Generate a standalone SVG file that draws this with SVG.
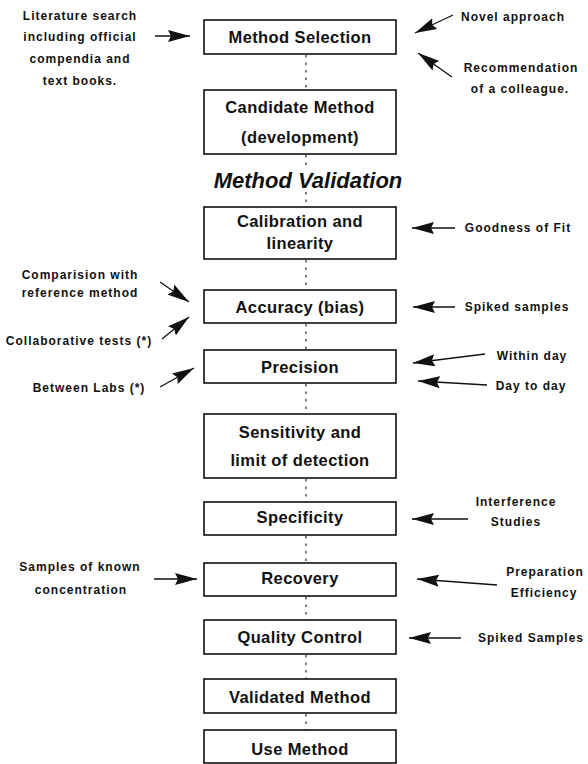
<svg xmlns="http://www.w3.org/2000/svg" width="588" height="764" viewBox="0 0 588 764">
<style>
.bg{fill:#fff}
.box{fill:#fff;stroke:#000;stroke-width:1.5}
.bt{font-family:"Liberation Sans",Arial,sans-serif;font-weight:bold;font-size:16.5px;letter-spacing:0.4px;text-anchor:middle;fill:#111}
.lb{font-family:"Liberation Sans",Arial,sans-serif;font-weight:bold;font-size:12px;letter-spacing:1px;text-anchor:middle;fill:#111}
.title{font-family:"Liberation Sans",Arial,sans-serif;font-weight:bold;font-style:italic;font-size:22px;text-anchor:middle;fill:#111}
.dot{stroke:#555;stroke-width:1.5;stroke-dasharray:2.5 5;fill:none}
.arr{stroke:#111;stroke-width:1.3;fill:none;marker-end:url(#ah)}
</style>
<defs>
<marker id="ah" markerUnits="userSpaceOnUse" markerWidth="22" markerHeight="12" refX="22" refY="6" orient="auto">
<path d="M0,0 L22,6 L0,12 L3,6 z" fill="#111"/>
</marker>
</defs>
<rect class="bg" x="0" y="0" width="588" height="764"/>
<g id="connectors">
<line class="dot" x1="306" y1="55" x2="306" y2="90"/>
<line class="dot" x1="306" y1="155" x2="306" y2="168"/>
<line class="dot" x1="306" y1="192" x2="306" y2="207"/>
<line class="dot" x1="306" y1="260" x2="306" y2="290"/>
<line class="dot" x1="306" y1="324" x2="306" y2="350"/>
<line class="dot" x1="306" y1="384" x2="306" y2="414"/>
<line class="dot" x1="306" y1="479" x2="306" y2="502"/>
<line class="dot" x1="306" y1="536" x2="306" y2="563"/>
<line class="dot" x1="306" y1="597" x2="306" y2="620"/>
<line class="dot" x1="306" y1="655" x2="306" y2="679"/>
<line class="dot" x1="306" y1="714" x2="306" y2="730"/>
<line class="arr" x1="155" y1="36" x2="190" y2="36"/>
<line class="arr" x1="453" y1="15" x2="415" y2="33"/>
<line class="arr" x1="452" y1="77" x2="418" y2="53"/>
<line class="arr" x1="455" y1="228" x2="412" y2="228"/>
<line class="arr" x1="160" y1="282" x2="189" y2="302"/>
<line class="arr" x1="162" y1="339" x2="189" y2="317"/>
<line class="arr" x1="455" y1="307" x2="413" y2="307"/>
<line class="arr" x1="160" y1="387" x2="194" y2="368"/>
<line class="arr" x1="485" y1="354" x2="413" y2="363"/>
<line class="arr" x1="487" y1="385" x2="418" y2="381"/>
<line class="arr" x1="468" y1="519" x2="412" y2="519"/>
<line class="arr" x1="154" y1="579" x2="197" y2="579"/>
<line class="arr" x1="497" y1="585" x2="417" y2="579"/>
<line class="arr" x1="461" y1="638" x2="409" y2="638"/>
</g>
<g id="n-selection"><rect class="box" x="204" y="20" width="192" height="34"/><text class="bt" x="300" y="43">Method Selection</text></g>
<g id="n-candidate"><rect class="box" x="204" y="90" width="192" height="64"/><text class="bt" x="300" y="113">Candidate Method</text><text class="bt" x="300" y="143">(development)</text></g>
<g id="n-validation-title"><text class="title" x="308" y="188">Method Validation</text></g>
<g id="n-calibration"><rect class="box" x="204" y="207" width="192" height="52"/><text class="bt" x="300" y="227">Calibration and</text><text class="bt" x="300" y="249">linearity</text></g>
<g id="n-accuracy"><rect class="box" x="204" y="290" width="192" height="33"/><text class="bt" x="300" y="313">Accuracy (bias)</text></g>
<g id="n-precision"><rect class="box" x="204" y="350" width="192" height="33"/><text class="bt" x="300" y="373">Precision</text></g>
<g id="n-sensitivity"><rect class="box" x="204" y="414" width="192" height="64"/><text class="bt" x="300" y="438">Sensitivity and</text><text class="bt" x="300" y="466">limit of detection</text></g>
<g id="n-specificity"><rect class="box" x="204" y="502" width="192" height="33"/><text class="bt" x="300" y="523">Specificity</text></g>
<g id="n-recovery"><rect class="box" x="204" y="563" width="192" height="33"/><text class="bt" x="300" y="584">Recovery</text></g>
<g id="n-quality"><rect class="box" x="204" y="620" width="192" height="34"/><text class="bt" x="300" y="643">Quality Control</text></g>
<g id="n-validated"><rect class="box" x="204" y="679" width="192" height="34"/><text class="bt" x="300" y="703">Validated Method</text></g>
<g id="n-use"><rect class="box" x="204" y="730" width="192" height="33"/><text class="bt" x="300" y="755">Use Method</text></g>
<g id="l-literature"><text class="lb" x="80" y="20">Literature search</text><text class="lb" x="80" y="41">including official</text><text class="lb" x="80" y="63">compendia and</text><text class="lb" x="80" y="85">text books.</text></g>
<g id="l-novel"><text class="lb" x="513" y="21">Novel approach</text></g>
<g id="l-recommendation"><text class="lb" x="521" y="72">Recommendation</text><text class="lb" x="520" y="93">of a colleague.</text></g>
<g id="l-goodness"><text class="lb" x="518" y="232">Goodness of Fit</text></g>
<g id="l-comparision"><text class="lb" x="80" y="279">Comparision with</text><text class="lb" x="80" y="297">reference method</text></g>
<g id="l-collaborative"><text class="lb" x="79" y="345">Collaborative tests (*)</text></g>
<g id="l-spiked1"><text class="lb" x="517" y="311">Spiked samples</text></g>
<g id="l-between"><text class="lb" x="89" y="392">Between Labs (*)</text></g>
<g id="l-within"><text class="lb" x="532" y="360">Within day</text></g>
<g id="l-daytoday"><text class="lb" x="531" y="390">Day to day</text></g>
<g id="l-interference"><text class="lb" x="516" y="506">Interference</text><text class="lb" x="516" y="526">Studies</text></g>
<g id="l-samples"><text class="lb" x="80" y="571">Samples of known</text><text class="lb" x="81" y="594">concentration</text></g>
<g id="l-preparation"><text class="lb" x="545" y="576">Preparation</text><text class="lb" x="544" y="597">Efficiency</text></g>
<g id="l-spiked2"><text class="lb" x="531" y="642">Spiked Samples</text></g>
</svg>
